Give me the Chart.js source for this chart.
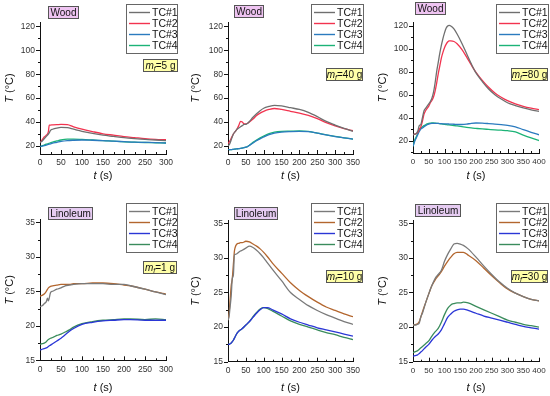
<!DOCTYPE html>
<html>
<head>
<meta charset="utf-8">
<script src="https://cdn.jsdelivr.net/npm/chart.js@4"></script>
<style>
body { margin: 0; background: #fff; }
#wrap { position: relative; width: 550px; height: 396px; overflow: hidden; }
#wrap canvas { position: absolute; left: 0; top: 0; }
</style>
</head>
<body>
<div id="wrap">
<canvas id="p1" width="550" height="396"></canvas>
<canvas id="p2" width="550" height="396"></canvas>
<canvas id="p3" width="550" height="396"></canvas>
<canvas id="p4" width="550" height="396"></canvas>
<canvas id="p5" width="550" height="396"></canvas>
<canvas id="p6" width="550" height="396"></canvas>
</div>
<script>
// values: time (s) and temperature (°C)
var seriesNames = ["TC#1", "TC#2", "TC#3", "TC#4"];

var wood5Time = [0, 5, 10, 15, 20, 22, 25, 30, 40, 50, 65, 80, 100, 125, 150, 175, 200, 225, 250, 275, 300];
var wood5TC1 = [23, 24, 26, 28, 30, 31, 33, 34, 35, 35.5, 35.3, 34, 32.3, 30.5, 29, 28, 27, 26.2, 25.5, 25, 24.5];
var wood5TC2 = [23, 25, 27.5, 29, 32, 37.5, 37.5, 37.6, 37.8, 38, 37.8, 36, 34, 32, 30.2, 29, 27.8, 27, 26.2, 25.6, 25.2];
var wood5TC3 = [19.5, 19.8, 20.2, 20.8, 21.3, 21.5, 21.8, 22.3, 23, 23.8, 24.5, 24.8, 25, 24.8, 24.5, 24, 23.6, 23.2, 23, 22.8, 22.5];
var wood5TC4 = [19.5, 20, 20.8, 21.5, 22, 22.3, 22.7, 23.3, 24.2, 25, 25.7, 25.8, 25.5, 25, 24.5, 24, 23.5, 23.2, 22.9, 22.7, 22.5];

var wood40Time = [0, 5, 10, 15, 20, 25, 30, 35, 40, 45, 50, 55, 60, 70, 80, 90, 100, 115, 130, 150, 175, 200, 225, 250, 275, 300, 325, 350];
var wood40TC1 = [20, 22, 26, 30, 32, 34, 35, 36, 37, 38, 38, 39, 40.5, 44, 47, 49.5, 51.5, 53, 54, 53.5, 52, 50.5, 48, 44.5, 40.5, 37.5, 34.8, 32.3];
var wood40TC2 = [22, 24, 27, 30, 32, 34, 37, 40.5, 40, 38.5, 38.5, 39, 40, 42.5, 45.5, 47.5, 49, 50.5, 51.3, 50.5, 49, 47.5, 45.5, 42.8, 39.5, 36.8, 34.5, 32.8];
var wood40TC3 = [16.8, 16.9, 17, 17.2, 17.4, 17.6, 17.8, 18, 18.3, 18.6, 19, 19.5, 20.5, 22.5, 24.5, 26, 27.5, 29.5, 30.8, 31.6, 32, 32.2, 32, 30.7, 29.2, 27.9, 26.8, 25.8];
var wood40TC4 = [16.8, 16.9, 17, 17.2, 17.4, 17.6, 17.8, 18, 18.3, 18.6, 19, 19.6, 20.7, 23, 25, 26.8, 28.3, 30.3, 31.5, 32.2, 32.4, 32.6, 32.2, 30.8, 29.3, 28, 26.8, 25.8];

var wood80Time = [0, 5, 10, 15, 20, 25, 30, 35, 40, 45, 50, 55, 60, 65, 70, 75, 80, 85, 90, 95, 100, 105, 110, 115, 120, 130, 140, 155, 170, 185, 200, 220, 240, 260, 280, 300, 325, 350, 375, 400];
var wood80TC1 = [25, 25.5, 26, 28, 33, 34, 40, 46, 48, 50, 52, 54, 57, 62, 70, 80, 88, 96, 103, 109, 114, 118, 120, 120.5, 120, 117.5, 113, 105, 96, 87, 79, 71.5, 65, 60, 56.2, 53, 50.5, 48.5, 46.8, 45.5];
var wood80TC2 = [25, 25.5, 26, 27, 30, 32, 37, 43, 46, 48, 50, 53, 55, 58, 63, 70, 78, 85, 92, 97, 101, 104, 106, 107, 107, 106.5, 104.5, 99.5, 93, 86, 79.5, 72.5, 66.5, 61.5, 57.8, 54.8, 52, 49.8, 48.2, 47];
var wood80TC3 = [15, 19, 22, 25, 28, 30, 31, 32, 33, 33.8, 34.4, 34.8, 35, 35, 35, 35, 34.9, 34.8, 34.7, 34.6, 34.5, 34.5, 34.5, 34.4, 34.3, 34.2, 34, 34, 34.3, 35, 35.3, 35.2, 34.8, 34.3, 33.8, 33.3, 32, 29.5, 27.2, 25];
var wood80TC4 = [15, 20, 23, 26, 29, 31, 32, 33, 33.8, 34.5, 35, 35.2, 35.3, 35.3, 35.2, 35, 34.9, 34.7, 34.5, 34.3, 34.1, 33.9, 33.7, 33.6, 33.4, 33.1, 32.7, 32.1, 31.5, 31, 30.6, 30.1, 29.7, 29.3, 29, 28.6, 27.5, 24.8, 22.3, 20];

var lino1Time = [0, 5, 10, 15, 18, 20, 25, 30, 40, 50, 60, 70, 80, 100, 125, 150, 175, 200, 215, 250, 275, 300];
var lino1TC1 = [22.8, 22.9, 23.2, 23.5, 24, 23.6, 24.8, 25, 25.3, 25.5, 25.8, 25.9, 26, 26.1, 26.1, 26.1, 26, 26, 25.8, 25.3, 24.9, 24.5];
var lino1TC2 = [24.3, 24.4, 24.6, 25, 25.3, 25.5, 25.7, 25.8, 25.9, 26, 26, 26, 26.1, 26.1, 26.2, 26.2, 26.1, 25.9, 25.8, 25.3, 24.9, 24.6];
var lino1TC3 = [16.5, 16.6, 16.7, 16.8, 16.9, 17, 17.2, 17.4, 17.8, 18.2, 18.7, 19.2, 19.6, 20.2, 20.5, 20.7, 20.8, 20.9, 20.9, 20.8, 20.8, 20.8];
var lino1TC4 = [17.3, 17.4, 17.5, 17.7, 17.9, 18, 18.2, 18.3, 18.6, 18.8, 19.1, 19.4, 19.8, 20.3, 20.6, 20.8, 20.9, 21, 21, 20.9, 21, 20.9];

var lino10Time = [0, 3, 6, 9, 12, 15, 18, 20, 25, 30, 35, 40, 50, 60, 70, 80, 90, 100, 110, 125, 150, 175, 200, 225, 250, 275, 300, 325, 350];
var lino10TC1 = [21, 21.5, 23, 24.5, 27, 27.5, 30.5, 30.5, 30.6, 30.8, 31, 31.1, 31.4, 31.7, 31.5, 31.1, 30.6, 30, 29.3, 28.3, 26.7, 25, 24, 23.1, 22.4, 21.8, 21.3, 20.8, 20.4];
var lino10TC2 = [21, 22, 24, 26, 27, 29, 31, 31.5, 32, 32.1, 32.2, 32.2, 32.4, 32.3, 32, 31.7, 31.3, 30.8, 30.2, 29.2, 27.8, 26.4, 25.3, 24.4, 23.6, 22.9, 22.4, 21.9, 21.5];
var lino10TC3 = [17.5, 17.5, 17.6, 17.7, 17.9, 18.1, 18.4, 18.6, 19.1, 19.4, 19.6, 19.8, 20.3, 20.8, 21.4, 22, 22.5, 22.8, 22.8, 22.5, 21.9, 21.2, 20.7, 20.3, 19.9, 19.6, 19.3, 19, 18.7];
var lino10TC4 = [17.5, 17.5, 17.6, 17.7, 17.9, 18.1, 18.4, 18.6, 19.1, 19.4, 19.6, 19.8, 20.3, 20.8, 21.5, 22.1, 22.6, 22.8, 22.7, 22.3, 21.6, 20.9, 20.4, 20, 19.6, 19.2, 18.9, 18.5, 18.2];

var lino30Time = [0, 10, 15, 20, 25, 30, 40, 50, 60, 70, 80, 90, 100, 110, 120, 130, 140, 150, 160, 175, 200, 225, 250, 275, 300, 325, 350, 375, 400];
var lino30TC1 = [20.3, 20.3, 20.4, 20.6, 21.5, 22, 23.5, 24.8, 26, 27, 27.6, 28.2, 29.5, 30.5, 31.3, 32, 32.1, 32, 31.8, 31.3, 30.1, 28.8, 27.6, 26.5, 25.6, 24.9, 24.4, 24, 23.8];
var lino30TC2 = [20.3, 20.4, 20.5, 20.8, 21.5, 22.2, 23.5, 24.8, 26, 26.8, 27.4, 28, 28.8, 29.5, 30.1, 30.6, 30.8, 30.8, 30.8, 30.4, 29.6, 28.5, 27.4, 26.4, 25.5, 24.9, 24.4, 24, 23.8];
var lino30TC3 = [15.8, 15.9, 16, 16.2, 16.4, 16.6, 17.1, 17.5, 18.1, 18.6, 19, 19.6, 20.5, 21.4, 21.9, 22.3, 22.5, 22.6, 22.6, 22.4, 22, 21.6, 21.3, 21, 20.7, 20.4, 20.1, 19.9, 19.7];
var lino30TC4 = [16.3, 16.5, 16.6, 16.8, 17, 17.2, 17.6, 18, 18.7, 19.3, 19.8, 20.7, 21.8, 22.7, 23.2, 23.4, 23.5, 23.5, 23.6, 23.5, 23, 22.5, 22, 21.5, 21, 20.7, 20.4, 20.2, 20];

var woodColors = ["#6f6f6f", "#f2334f", "#2b7bbf", "#1cb377"];
var linoColors = ["#7a7a7a", "#b3662e", "#2a36d6", "#3a8c5c"];

var FONT = "'Liberation Sans', Arial, sans-serif";

// draws ticks, axis titles, legend and the two label boxes
var decoPlugin = {
    id: 'deco',
    afterDraw(chart, args, o) {
        var ctx = chart.ctx;
        var xs = chart.scales.x, ys = chart.scales.y, a = chart.chartArea;
        ctx.save();
        ctx.strokeStyle = '#111';
        ctx.lineWidth = 1;

        // x ticks, pointing in
        for (var v = xs.min; v <= xs.max + 1e-6; v += o.xMinor) {
            var px = Math.round(xs.getPixelForValue(v)) + 0.5;
            var len = Math.abs(v % o.xMajor) < 1e-6 ? 4 : 2;
            ctx.beginPath();
            ctx.moveTo(px, a.bottom);
            ctx.lineTo(px, a.bottom - len);
            ctx.stroke();
        }
        // y ticks, pointing out
        var start = Math.ceil(ys.min / o.yMinor - 1e-6) * o.yMinor;
        for (var w = start; w <= ys.max + 1e-6; w += o.yMinor) {
            var py = Math.round(ys.getPixelForValue(w)) + 0.5;
            var l2 = Math.abs(w % o.yMajor) < 1e-6 ? 4 : 2;
            ctx.beginPath();
            ctx.moveTo(a.left, py);
            ctx.lineTo(a.left - l2, py);
            ctx.stroke();
        }

        ctx.fillStyle = '#111';
        ctx.textBaseline = 'middle';

        // x title: t (s)
        ctx.font = 'italic 11px ' + FONT;
        var w1 = ctx.measureText('t').width;
        ctx.font = '11px ' + FONT;
        var w2 = ctx.measureText(' (s)').width;
        var cx = (a.left + a.right) / 2 - (w1 + w2) / 2;
        ctx.textAlign = 'left';
        ctx.font = 'italic 11px ' + FONT;
        ctx.fillText('t', cx, o.xTitleY);
        ctx.font = '11px ' + FONT;
        ctx.fillText(' (s)', cx + w1, o.xTitleY);

        // y title: T (°C)
        ctx.save();
        ctx.translate(o.yTitleX, (a.top + a.bottom) / 2);
        ctx.rotate(-Math.PI / 2);
        ctx.font = 'italic 11px ' + FONT;
        var t1 = ctx.measureText('T').width;
        ctx.font = '11px ' + FONT;
        var t2 = ctx.measureText(' (°C)').width;
        ctx.font = 'italic 11px ' + FONT;
        ctx.fillText('T', -(t1 + t2) / 2, 0);
        ctx.font = '11px ' + FONT;
        ctx.fillText(' (°C)', -(t1 + t2) / 2 + t1, 0);
        ctx.restore();

        // material box
        var b = o.material;
        ctx.fillStyle = b.fill;
        ctx.fillRect(b.x, b.y, b.w, b.h);
        ctx.strokeStyle = '#555';
        ctx.strokeRect(b.x + 0.5, b.y + 0.5, b.w, b.h);
        ctx.fillStyle = '#111';
        ctx.font = '10px ' + FONT;
        ctx.textAlign = 'center';
        ctx.fillText(b.text, b.x + b.w / 2 + 0.5, b.y + b.h / 2 + 1);

        // legend
        var g = o.legend;
        ctx.fillStyle = '#fff';
        ctx.fillRect(g.x, g.y, g.w, g.h);
        ctx.strokeStyle = '#666';
        ctx.strokeRect(g.x + 0.5, g.y + 0.5, g.w, g.h);
        ctx.textAlign = 'left';
        ctx.font = '10.5px ' + FONT;
        chart.data.datasets.forEach(function (ds, i) {
            var ry = g.y + 8.5 + i * 11;
            ctx.strokeStyle = ds.borderColor;
            ctx.lineWidth = 1.4;
            ctx.beginPath();
            ctx.moveTo(g.x + 3, ry);
            ctx.lineTo(g.x + 24, ry);
            ctx.stroke();
            ctx.fillStyle = '#111';
            ctx.fillText(ds.label, g.x + 26, ry + 0.5);
        });
        ctx.lineWidth = 1;

        // mass box: m_f=.. g
        var m = o.mass;
        ctx.fillStyle = '#ffffa8';
        ctx.fillRect(m.x, m.y, m.w, m.h);
        ctx.strokeStyle = '#555';
        ctx.strokeRect(m.x + 0.5, m.y + 0.5, m.w, m.h);
        ctx.fillStyle = '#111';
        ctx.font = 'italic 10px ' + FONT;
        var mw = ctx.measureText('m').width;
        ctx.font = 'italic 7px ' + FONT;
        var fw = ctx.measureText('f').width;
        ctx.font = '10px ' + FONT;
        var rest = '=' + m.text;
        var rw = ctx.measureText(rest).width;
        var mx = m.x + m.w / 2 - (mw + fw + rw) / 2 + 0.5;
        var my = m.y + m.h / 2 + 1;
        ctx.font = 'italic 10px ' + FONT;
        ctx.fillText('m', mx, my);
        ctx.font = 'italic 7px ' + FONT;
        ctx.fillText('f', mx + mw, my + 3);
        ctx.font = '10px ' + FONT;
        ctx.fillText(rest, mx + mw + fw, my);
        ctx.restore();
    }
};

function toPoints(times, vals) {
    return times.map(function (t, i) { return { x: t, y: vals[i] }; });
}

function makePanel(id, p) {
    var datasets = p.series.map(function (vals, i) {
        return {
            label: seriesNames[i],
            data: toPoints(p.time, vals),
            borderColor: p.colors[i],
            borderWidth: 1.3,
            pointRadius: 0,
            fill: false,
            cubicInterpolationMode: 'monotone'
        };
    });
    var xFont = { family: FONT, size: p.xRange[1] > 350 ? 8 : 8.5 };
    var yFont = { family: FONT, size: 8.5 };
    return new Chart(document.getElementById(id), {
        type: 'line',
        data: { datasets: datasets },
        options: {
            responsive: false,
            animation: false,
            events: [],
            layout: {
                padding: { left: 0, right: 550 - p.box.right, top: p.box.top, bottom: 396 - p.box.bottom - 20 }
            },
            plugins: {
                legend: { display: false },
                tooltip: { enabled: false },
                deco: p.deco
            },
            scales: {
                x: {
                    type: 'linear',
                    min: p.xRange[0],
                    max: p.xRange[1],
                    afterFit: function (s) { s.height = 20; },
                    grid: { display: false, drawTicks: false },
                    border: { display: true, color: '#111', width: 1 },
                    ticks: { stepSize: p.xStep, autoSkip: false, maxRotation: 0, padding: 4, color: '#333', font: xFont }
                },
                y: {
                    type: 'linear',
                    min: p.yRange[0],
                    max: p.yRange[1],
                    afterFit: function (s) { s.width = p.box.left; },
                    grid: { display: false, drawTicks: false },
                    border: { display: true, color: '#111', width: 1 },
                    ticks: { stepSize: p.yStep, includeBounds: false, padding: 5, color: '#333', font: yFont }
                }
            }
        },
        plugins: [decoPlugin]
    });
}

makePanel('p1', {
    time: wood5Time, series: [wood5TC1, wood5TC2, wood5TC3, wood5TC4], colors: woodColors,
    box: { left: 40, right: 166, top: 22, bottom: 154 },
    xRange: [0, 300], xStep: 50, yRange: [13.3, 123.6], yStep: 20,
    deco: {
        xMinor: 25, xMajor: 50, yMinor: 10, yMajor: 20, xTitleY: 176, yTitleX: 10,
        material: { text: 'Wood', fill: '#efc4f2', x: 48, y: 6, w: 30, h: 12 },
        legend: { x: 126, y: 4, w: 51, h: 49 },
        mass: { text: '5 g', x: 143, y: 59, w: 34, h: 12 }
    }
});
makePanel('p2', {
    time: wood40Time, series: [wood40TC1, wood40TC2, wood40TC3, wood40TC4], colors: woodColors,
    box: { left: 228, right: 353, top: 22, bottom: 154 },
    xRange: [0, 350], xStep: 50, yRange: [13.3, 123.6], yStep: 20,
    deco: {
        xMinor: 25, xMajor: 50, yMinor: 10, yMajor: 20, xTitleY: 176, yTitleX: 196,
        material: { text: 'Wood', fill: '#efc4f2', x: 234, y: 5, w: 29, h: 12 },
        legend: { x: 311, y: 4, w: 52, h: 49 },
        mass: { text: '40 g', x: 326, y: 68, w: 36, h: 12 }
    }
});
makePanel('p3', {
    time: wood80Time, series: [wood80TC1, wood80TC2, wood80TC3, wood80TC4], colors: woodColors,
    box: { left: 413, right: 539, top: 22, bottom: 153 },
    xRange: [0, 400], xStep: 50, yRange: [9.1, 123.5], yStep: 20,
    deco: {
        xMinor: 25, xMajor: 50, yMinor: 10, yMajor: 20, xTitleY: 176, yTitleX: 383,
        material: { text: 'Wood', fill: '#efc4f2', x: 415, y: 2, w: 30, h: 12 },
        legend: { x: 496, y: 4, w: 52, h: 49 },
        mass: { text: '80 g', x: 511, y: 68, w: 36, h: 12 }
    }
});
makePanel('p4', {
    time: lino1Time, series: [lino1TC1, lino1TC2, lino1TC3, lino1TC4], colors: linoColors,
    box: { left: 40, right: 166, top: 219.5, bottom: 360.3 },
    xRange: [0, 300], xStep: 50, yRange: [15, 35.4], yStep: 5,
    deco: {
        xMinor: 25, xMajor: 50, yMinor: 2.5, yMajor: 5, xTitleY: 388, yTitleX: 10,
        material: { text: 'Linoleum', fill: '#e6ccf2', x: 48, y: 207, w: 44, h: 12 },
        legend: { x: 126, y: 203, w: 51, h: 49 },
        mass: { text: '1 g', x: 143, y: 261, w: 33, h: 12 }
    }
});
makePanel('p5', {
    time: lino10Time, series: [lino10TC1, lino10TC2, lino10TC3, lino10TC4], colors: linoColors,
    box: { left: 228, right: 353, top: 220.5, bottom: 361.7 },
    xRange: [0, 350], xStep: 50, yRange: [15, 35.4], yStep: 5,
    deco: {
        xMinor: 25, xMajor: 50, yMinor: 2.5, yMajor: 5, xTitleY: 388, yTitleX: 196,
        material: { text: 'Linoleum', fill: '#e6ccf2', x: 234, y: 207, w: 43, h: 12 },
        legend: { x: 311, y: 203, w: 52, h: 49 },
        mass: { text: '10 g', x: 326, y: 270, w: 36, h: 12 }
    }
});
makePanel('p6', {
    time: lino30Time, series: [lino30TC1, lino30TC2, lino30TC3, lino30TC4], colors: linoColors,
    box: { left: 413, right: 539, top: 220.5, bottom: 361.7 },
    xRange: [0, 400], xStep: 50, yRange: [15, 35.4], yStep: 5,
    deco: {
        xMinor: 25, xMajor: 50, yMinor: 2.5, yMajor: 5, xTitleY: 388, yTitleX: 383,
        material: { text: 'Linoleum', fill: '#e6ccf2', x: 415, y: 204, w: 45, h: 12 },
        legend: { x: 496, y: 203, w: 52, h: 49 },
        mass: { text: '30 g', x: 511, y: 270, w: 36, h: 12 }
    }
});
</script>
</body>
</html>
